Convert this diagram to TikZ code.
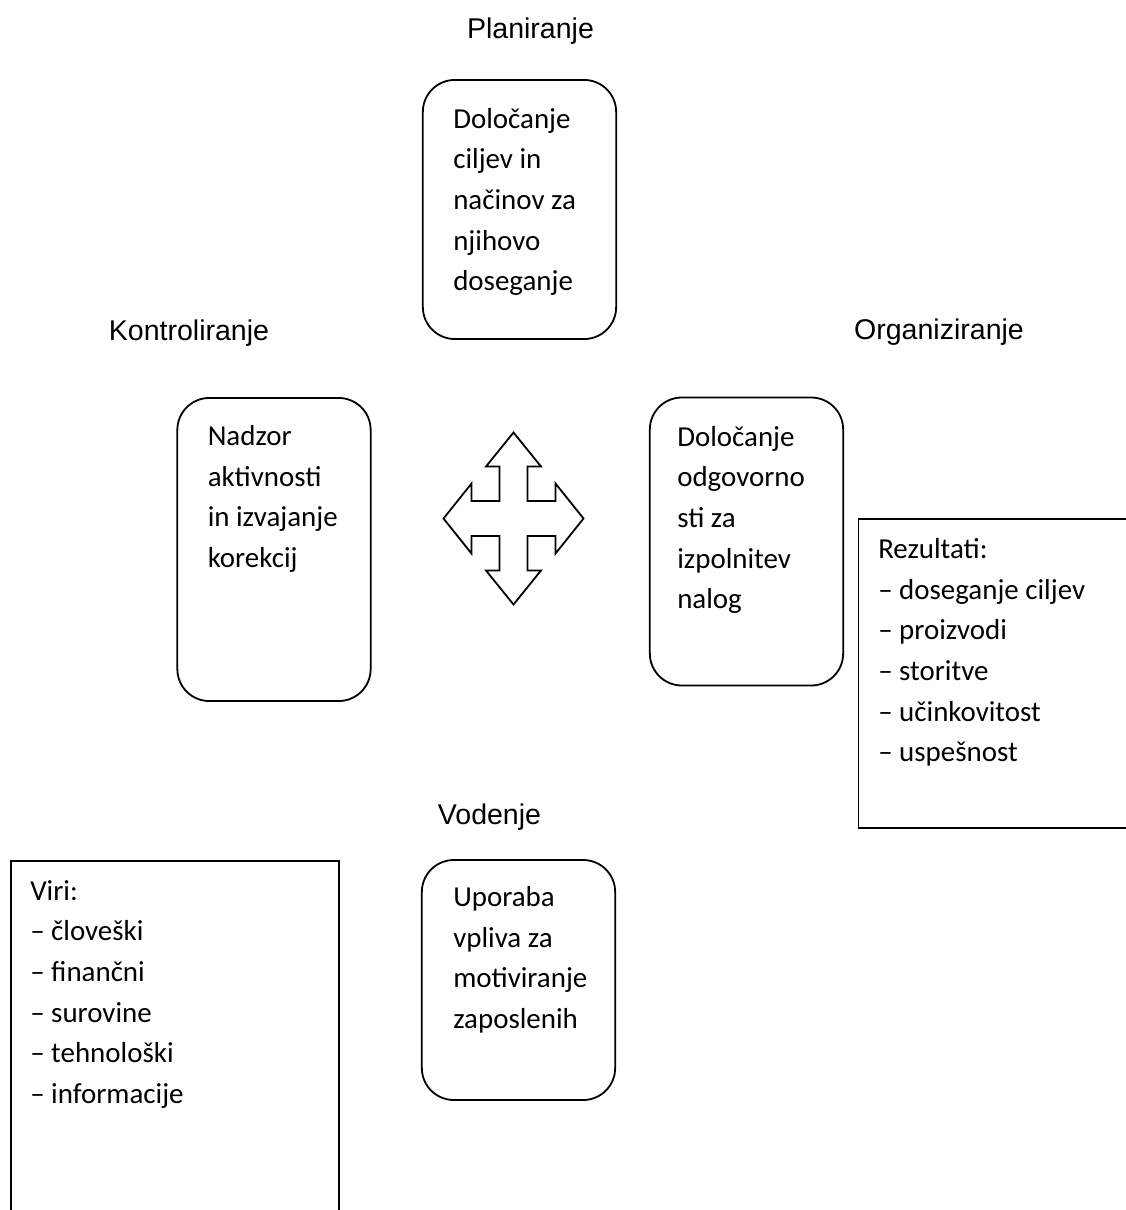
\documentclass[tikz,border=0pt]{standalone}
\usepackage{fontspec}
\setmainfont{Carlito}
\newfontfamily\arialfont{Liberation Sans}
\begin{document}
\begin{tikzpicture}[x=0.75pt,y=-0.75pt,
  roundbox/.style={draw,line width=1.35pt,rounded corners=24pt,minimum width=145pt,inner sep=0pt},
  boxtext/.style={anchor=base west,inner sep=0pt,font=\fontsize{21.7}{30.5}\selectfont},
  heading/.style={anchor=base,inner sep=0pt,font=\arialfont\fontsize{21.4}{25}\selectfont},
  plainline/.style={line width=1.35pt}]
\useasboundingbox (0,0) rectangle (1126,1210);
% headings
\node[heading] (hplan) at (530.5,38.3) {Planiranje};
\node[heading] (hkont) at (189,340) {Kontroliranje};
\node[heading] (horg) at (939,339.5) {Organiziranje};
\node[heading] (hvod) at (489.5,824) {Vodenje};
% rounded boxes
\node[roundbox,minimum height=194.3pt] (bplan) at (519.5,209.5) {};
\node[roundbox,minimum height=227.3pt] (bkont) at (274,549.5) {};
\node[roundbox,minimum height=216pt] (borg) at (746.5,541.5) {};
\node[roundbox,minimum height=180pt] (bvod) at (518.5,980) {};
% box texts
\node[boxtext] (tplan) at (453,128) {\begin{tabular}[t]{@{}l@{}}Določanje\\ciljev in\\načinov za\\njihovo\\doseganje\end{tabular}};
\node[boxtext] (tkont) at (207.5,445.5) {\begin{tabular}[t]{@{}l@{}}Nadzor\\aktivnosti\\in izvajanje\\korekcij\end{tabular}};
\node[boxtext] (torg) at (677,446) {\begin{tabular}[t]{@{}l@{}}Določanje\\odgovorno\\sti za\\izpolnitev\\nalog\end{tabular}};
\node[boxtext] (tvod) at (453,906.5) {\begin{tabular}[t]{@{}l@{}}Uporaba\\vpliva za\\motiviranje\\zaposlenih\end{tabular}};
% Rezultati box (cut at right edge)
\coordinate (rtr) at (1126,519);
\coordinate (rtl) at (858.5,519);
\coordinate (rbl) at (858.5,828);
\coordinate (rbr) at (1126,828);
\draw[plainline] (rtr) -- (rtl) -- (rbl) -- (rbr);
\node[boxtext] (trez) at (878,558.5) {\begin{tabular}[t]{@{}l@{}}Rezultati:\\– doseganje ciljev\\– proizvodi\\– storitve\\– učinkovitost\\– uspešnost\end{tabular}};
% Viri box (cut at bottom edge)
\coordinate (vbl) at (10.7,1210);
\coordinate (vtl) at (10.7,860.7);
\coordinate (vtr) at (339.3,860.7);
\coordinate (vbr) at (339.3,1210);
\draw[plainline] (vbl) -- (vtl) -- (vtr) -- (vbr);
\node[boxtext] (tviri) at (30,900) {\begin{tabular}[t]{@{}l@{}}Viri:\\– človeški\\– finančni\\– surovine\\– tehnološki\\– informacije\end{tabular}};
% four-way arrow
\draw[plainline,line join=miter,shift={(513.5,518.5)}]
  (0,-86) -- (27.5,-52) -- (14,-52) -- (14,-17.5) -- (42,-17.5) -- (42,-35) -- (70,0)
  -- (42,35) -- (42,17.5) -- (14,17.5) -- (14,52) -- (27.5,52) -- (0,86)
  -- (-27.5,52) -- (-14,52) -- (-14,17.5) -- (-42,17.5) -- (-42,35) -- (-70,0)
  -- (-42,-35) -- (-42,-17.5) -- (-14,-17.5) -- (-14,-52) -- (-27.5,-52) -- cycle;
\end{tikzpicture}
\end{document}
